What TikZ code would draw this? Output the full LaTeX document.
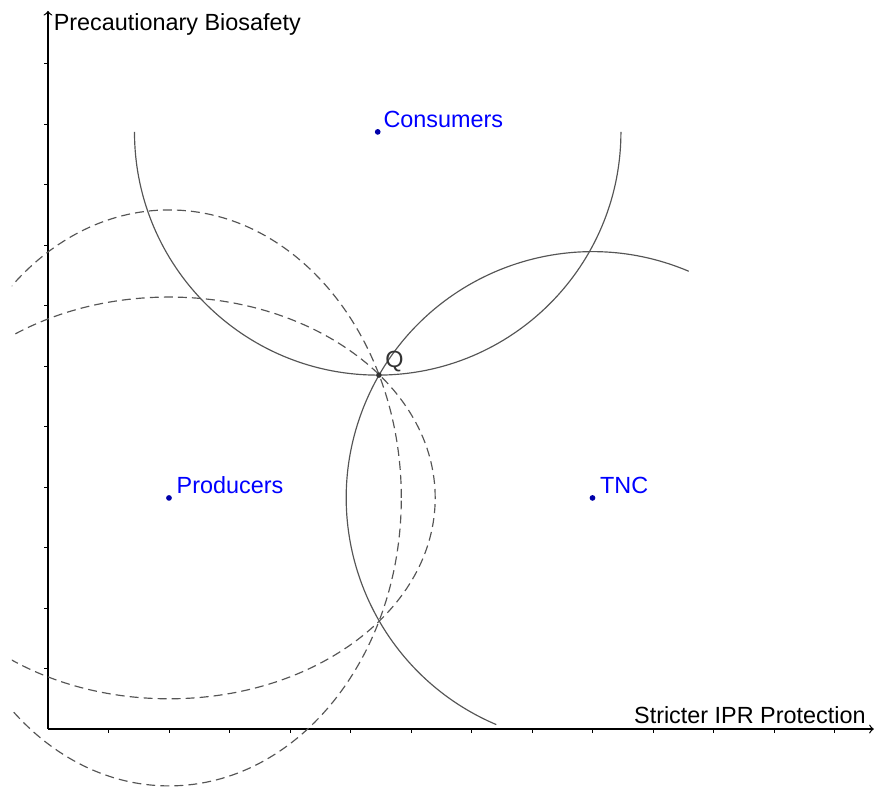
\documentclass[tikz,border=0pt]{standalone}
\usepackage{fontspec}
\setmainfont{Liberation Sans}
\definecolor{ptblue}{RGB}{0,0,255}
\definecolor{ptdot}{RGB}{0,0,170}
\definecolor{curvegray}{RGB}{85,85,85}
\tikzset{
  circ/.style={curvegray, line width=0.55pt},
  pref/.style={curvegray, line width=0.55pt, dash pattern=on 4.2pt off 2.4pt},
  axis/.style={black, line width=0.6pt, ->},
  ptlabel/.style={ptblue, inner sep=0pt, anchor=base west},
}
\begin{document}
\begin{tikzpicture}[x=1cm, y=1cm, font=\fontsize{11}{13}\selectfont]
    \useasboundingbox (-0.793,-1.025) rectangle (13.686,12.05);
    \coordinate (O) at (0,0);
    \coordinate (prod) at (2,3.82);
    \coordinate (tnc) at (9,3.82);
    \coordinate (cons) at (5.45,9.87);
    \coordinate (Q) at (5.47,5.85);
    % axes and ticks
    \foreach \k in {1,...,13} \draw[line width=0.4pt] (\k,0) -- (\k,-0.06);
    \foreach \k in {1,...,11} \draw[line width=0.4pt] (0,\k) -- (-0.06,\k);
    \draw[axis] (O) -- (13.65,0);
    \draw[axis] (O) -- (0,11.87);
    \node[anchor=base west, inner sep=0pt] (ylab) at (0.09,11.54) {Precautionary Biosafety};
    \node[anchor=base east, inner sep=0pt] (xlab) at (13.52,0.09) {Stricter IPR Protection};
    % producers' preference curves
    \begin{scope}
      \clip (-0.595,-1.1) rectangle (14,12.1);
      \draw[pref] (prod) ellipse[x radius=3.84, y radius=4.76];
      \draw[pref] (prod) ellipse[x radius=4.40, y radius=3.32];
    \end{scope}
    % consumers and TNC
    \draw[circ] (cons) ++(180:4.02) arc[start angle=180, end angle=360, radius=4.02];
    \draw[circ] (tnc) ++(67:4.07) arc[start angle=67, end angle=247, radius=4.07];
    % points
    \fill[ptdot] (prod) circle (1.35pt);
    \fill[ptdot] (tnc) circle (1.35pt);
    \fill[ptdot] (cons) circle (1.35pt);
    \fill[black!80] (Q) circle (1.3pt);
    \node[ptlabel] (prodname) at (2.12,3.90) {Producers};
    \node[ptlabel] (tncname) at (9.12,3.90) {TNC};
    \node[ptlabel] (consname) at (5.54,9.95) {Consumers};
    \node[ptlabel, black!80] (qname) at (5.57,5.97) {Q};
\end{tikzpicture}
\end{document}
